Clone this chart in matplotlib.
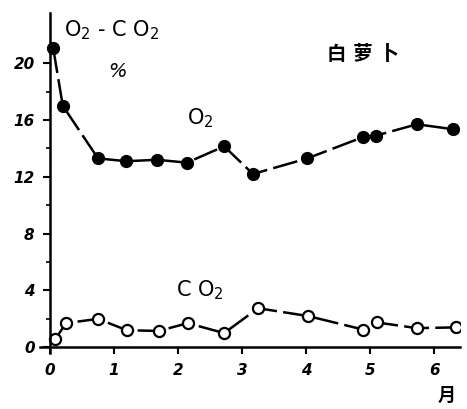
import matplotlib.pyplot as plt

plt.rcParams['font.family'] = ['DejaVu Sans', 'Noto Sans CJK SC']
plt.rcParams['mathtext.default'] = 'regular'

# month (x) and gas concentration % (y)
o2_x = [0.05, 0.2, 0.75, 1.19, 1.67, 2.14, 2.72, 3.17, 4.02, 4.89, 5.09, 5.73, 6.3]
o2_y = [21.05, 17.0, 13.3, 13.1, 13.2, 13.0, 14.15, 12.2, 13.3, 14.8, 14.9, 15.7, 15.35]

co2_x = [0.08, 0.25, 0.75, 1.2, 1.7, 2.15, 2.72, 3.25, 4.03, 4.89, 5.1, 5.73, 6.34]
co2_y = [0.55, 1.7, 2.0, 1.2, 1.15, 1.7, 1.0, 2.75, 2.2, 1.25, 1.75, 1.35, 1.4]

x_ticks = [0, 1, 2, 3, 4, 5, 6]
y_ticks = [0, 4, 8, 12, 16, 20]
y_minor = [2, 6, 10, 14, 18]

fig = plt.figure(figsize=(4.67, 4.09), dpi=100)
ax = fig.add_axes([0.0865, 0.137, 0.898, 0.83])

dash = (0, (10, 2.5))
ax.plot(o2_x, o2_y, color='black', lw=1.8, linestyle=dash,
        marker='o', markersize=8.5, markerfacecolor='black', markeredgecolor='black')
ax.plot(co2_x, co2_y, color='black', lw=1.8, linestyle=dash,
        marker='o', markersize=8, markerfacecolor='white', markeredgecolor='black',
        markeredgewidth=1.6)

ax.set_xlim(-0.15, 6.4)
ax.set_ylim(-0.4, 23.5)

ax.spines['top'].set_visible(False)
ax.spines['right'].set_visible(False)
ax.spines['left'].set_position(('data', 0))
ax.spines['bottom'].set_position(('data', 0))
ax.spines['left'].set_linewidth(1.8)
ax.spines['bottom'].set_linewidth(1.8)

ax.set_xticks(x_ticks)
ax.set_xticklabels([str(v) for v in x_ticks], fontsize=11, fontweight='bold', fontstyle='italic')
ax.set_yticks(y_ticks)
ax.set_yticklabels([str(v) for v in y_ticks], fontsize=11, fontweight='bold', fontstyle='italic')
ax.set_yticks(y_minor, minor=True)
ax.tick_params(axis='both', which='major', direction='out', length=5, width=1.5, pad=6)
ax.tick_params(axis='y', which='minor', direction='out', length=3, width=1.2)

# annotations
ax.text(0.22, 22.3, 'O$_2$ - C O$_2$', fontsize=15, ha='left', va='center')
ax.text(1.05, 19.4, '%', fontsize=14, fontstyle='italic', ha='center', va='center')
ax.text(2.34, 16.1, 'O$_2$', fontsize=15, ha='center', va='center')
ax.text(2.34, 4.0, 'C O$_2$', fontsize=15, ha='center', va='center')
ax.text(4.89, 20.6, '白 萝 卜', fontsize=14, fontweight='bold', ha='center', va='center')
ax.text(6.2, -3.4, '月', fontsize=13, fontweight='bold', ha='center', va='center',
        clip_on=False)

fig.savefig('out.png', dpi=100)
